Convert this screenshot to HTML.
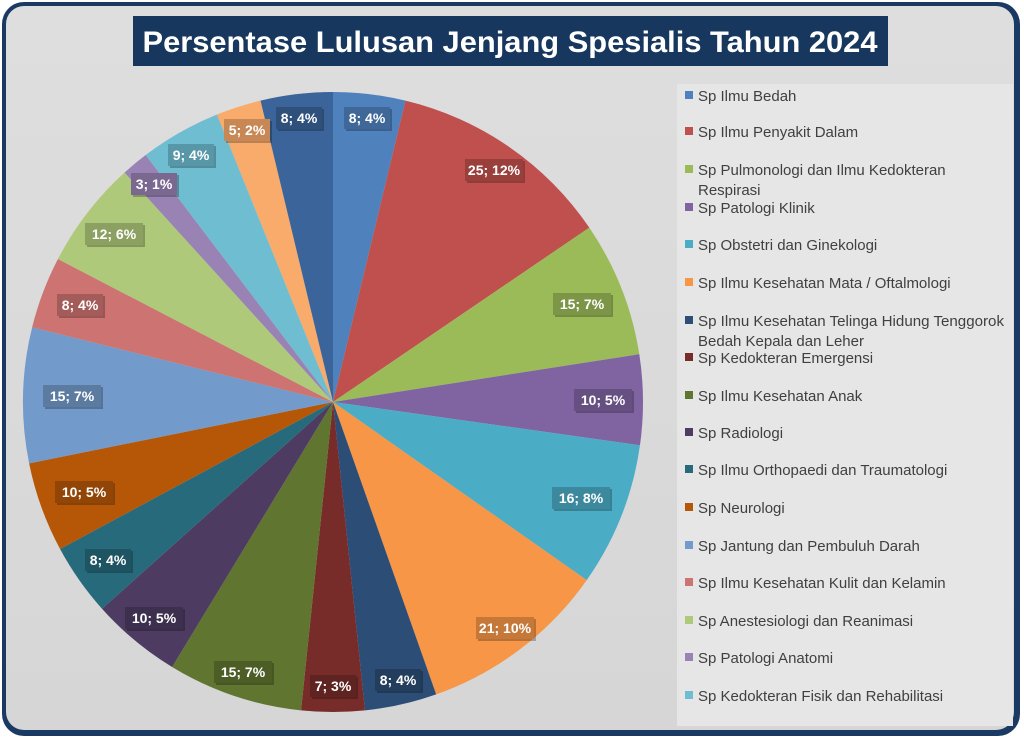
<!DOCTYPE html>
<html><head><meta charset="utf-8"><style>
html,body{margin:0;padding:0;width:1024px;height:740px;overflow:hidden;background:#fff}
svg{display:block}
text{font-family:"Liberation Sans",sans-serif}
</style></head><body>
<svg id="s" width="1024" height="740" viewBox="0 0 1024 740" xmlns="http://www.w3.org/2000/svg">
<defs>
<linearGradient id="bg" x1="0" y1="0" x2="0" y2="1">
<stop offset="0" stop-color="#dedede"/><stop offset="1" stop-color="#d6d6d6"/>
</linearGradient>
</defs>
<rect x="2" y="2" width="1018" height="734" rx="22" fill="#1b3a63"/>
<rect x="6" y="6" width="1008" height="724" rx="18" fill="url(#bg)"/>
<rect x="133" y="16" width="755" height="50" fill="#17375E"/>
<text x="510" y="52" text-anchor="middle" font-size="30" font-weight="bold" fill="#fff" textLength="735" lengthAdjust="spacingAndGlyphs">Persentase Lulusan Jenjang Spesialis Tahun 2024</text>
<rect x="677" y="84" width="336" height="642" fill="#e6e6e6"/>
<g id="pie"></g>
<g id="labels" font-size="14" font-weight="bold" fill="#fff" text-anchor="middle"></g>
<g font-size="15" fill="#404040">
<rect x="685" y="91" width="8" height="8" fill="#4F81BD"/><text x="698" y="101">Sp Ilmu Bedah</text>
<rect x="685" y="127" width="8" height="8" fill="#C0504D"/><text x="698" y="137">Sp Ilmu Penyakit Dalam</text>
<rect x="685" y="165" width="8" height="8" fill="#9BBB59"/><text x="698" y="175">Sp Pulmonologi dan Ilmu Kedokteran</text><text x="698" y="195">Respirasi</text>
<rect x="685" y="203" width="8" height="8" fill="#8064A2"/><text x="698" y="213">Sp Patologi Klinik</text>
<rect x="685" y="240" width="8" height="8" fill="#4BACC6"/><text x="698" y="250">Sp Obstetri dan Ginekologi</text>
<rect x="685" y="278" width="8" height="8" fill="#F79646"/><text x="698" y="288">Sp Ilmu Kesehatan Mata / Oftalmologi</text>
<rect x="685" y="316" width="8" height="8" fill="#2C4D75"/><text x="698" y="326" textLength="306" lengthAdjust="spacingAndGlyphs">Sp Ilmu Kesehatan Telinga Hidung Tenggorok</text><text x="698" y="346">Bedah Kepala dan Leher</text>
<rect x="685" y="353" width="8" height="8" fill="#772C2A"/><text x="698" y="363">Sp Kedokteran Emergensi</text>
<rect x="685" y="391" width="8" height="8" fill="#5F7530"/><text x="698" y="401">Sp Ilmu Kesehatan Anak</text>
<rect x="685" y="428" width="8" height="8" fill="#4D3B62"/><text x="698" y="438">Sp Radiologi</text>
<rect x="685" y="465" width="8" height="8" fill="#276A7C"/><text x="698" y="475">Sp Ilmu Orthopaedi dan Traumatologi</text>
<rect x="685" y="503" width="8" height="8" fill="#B65708"/><text x="698" y="513">Sp Neurologi</text>
<rect x="685" y="541" width="8" height="8" fill="#729ACA"/><text x="698" y="551">Sp Jantung dan Pembuluh Darah</text>
<rect x="685" y="578" width="8" height="8" fill="#CD7371"/><text x="698" y="588">Sp Ilmu Kesehatan Kulit dan Kelamin</text>
<rect x="685" y="616" width="8" height="8" fill="#AFC97A"/><text x="698" y="626">Sp Anestesiologi dan Reanimasi</text>
<rect x="685" y="653" width="8" height="8" fill="#9983B5"/><text x="698" y="663">Sp Patologi Anatomi</text>
<rect x="685" y="691" width="8" height="8" fill="#6FBDD1"/><text x="698" y="701">Sp Kedokteran Fisik dan Rehabilitasi</text>
</g>
</svg>
<script>
var vals=[8,25,15,10,16,21,8,7,15,10,8,10,15,8,12,3,9,5,8];
var cols=["#4F81BD","#C0504D","#9BBB59","#8064A2","#4BACC6","#F79646","#2C4D75","#772C2A","#5F7530","#4D3B62","#276A7C","#B65708","#729ACA","#CD7371","#AFC97A","#9983B5","#6FBDD1","#F9AB6B","#3A649A"];
var cx=333,cy=402,r=310,tot=213,c=0,ns="http://www.w3.org/2000/svg",g=document.getElementById("pie");
function pt(a){return [cx+r*Math.sin(a),cy-r*Math.cos(a)];}
for(var i=0;i<vals.length;i++){var a0=c/tot*2*Math.PI;c+=vals[i];var a1=c/tot*2*Math.PI;
var p0=pt(a0),p1=pt(a1);var p=document.createElementNS(ns,"path");
p.setAttribute("d","M"+cx+","+cy+"L"+p0[0]+","+p0[1]+"A"+r+","+r+" 0 "+((a1-a0)>Math.PI?1:0)+" 1 "+p1[0]+","+p1[1]+"Z");
p.setAttribute("fill",cols[i]);g.appendChild(p);}
var L=[[367,118],[494,170],[582,304],[603,400],[581,498],[505,628],[398,680],[333,686],[243,672],[154,618],[108,560],[84,492],[72,396],[80,305],[114,234],[154,184],[191,155],[247,130],[299,118]];
var T=["8; 4%","25; 12%","15; 7%","10; 5%","16; 8%","21; 10%","8; 4%","7; 3%","15; 7%","10; 5%","8; 4%","10; 5%","15; 7%","8; 4%","12; 6%","3; 1%","9; 4%","5; 2%","8; 4%"];
var lg=document.getElementById("labels");
for(var i=0;i<L.length;i++){var w=T[i].length>5?58:46;var x=L[i][0]-w/2,y=L[i][1]-11;
var sh=document.createElementNS(ns,"rect");sh.setAttribute("x",x+2);sh.setAttribute("y",y+2);sh.setAttribute("width",w);sh.setAttribute("height",22);sh.setAttribute("fill","rgba(0,0,0,0.25)");lg.appendChild(sh);
var b=document.createElementNS(ns,"rect");b.setAttribute("x",x);b.setAttribute("y",y);b.setAttribute("width",w);b.setAttribute("height",22);b.setAttribute("fill",cols[i]);lg.appendChild(b);
var b2=document.createElementNS(ns,"rect");b2.setAttribute("x",x);b2.setAttribute("y",y);b2.setAttribute("width",w);b2.setAttribute("height",22);b2.setAttribute("fill","rgba(0,0,0,0.2)");lg.appendChild(b2);}
</script>
<svg width="1024" height="740" style="position:absolute;left:0;top:0" font-family="Liberation Sans, sans-serif" font-size="14" font-weight="bold" fill="#fff" text-anchor="middle">
<text x="367" y="123">8; 4%</text>
<text x="494" y="175">25; 12%</text>
<text x="582" y="309">15; 7%</text>
<text x="603" y="405">10; 5%</text>
<text x="581" y="503">16; 8%</text>
<text x="505" y="633">21; 10%</text>
<text x="398" y="685">8; 4%</text>
<text x="333" y="691">7; 3%</text>
<text x="243" y="677">15; 7%</text>
<text x="154" y="623">10; 5%</text>
<text x="108" y="565">8; 4%</text>
<text x="84" y="497">10; 5%</text>
<text x="72" y="401">15; 7%</text>
<text x="80" y="310">8; 4%</text>
<text x="114" y="239">12; 6%</text>
<text x="154" y="189">3; 1%</text>
<text x="191" y="160">9; 4%</text>
<text x="247" y="135">5; 2%</text>
<text x="299" y="123">8; 4%</text>
</svg>
</body></html>
